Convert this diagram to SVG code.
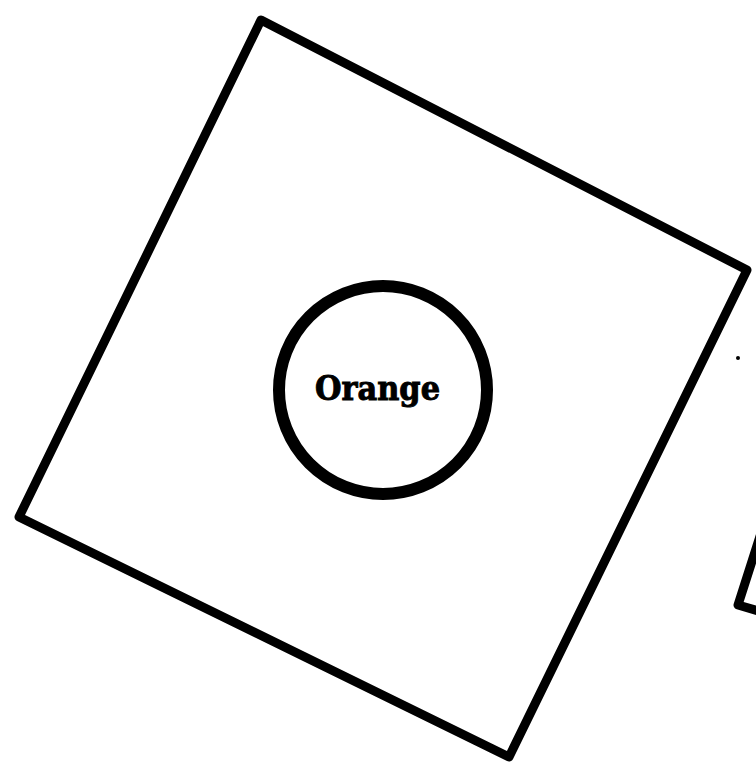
<svg xmlns="http://www.w3.org/2000/svg" width="756" height="768" viewBox="0 0 756 768">
<style>
.edge{fill:none;stroke:#000;stroke-width:9;stroke-linejoin:round;stroke-linecap:round}
.lbl{font-family:"DejaVu Serif","Liberation Serif",serif;font-weight:bold;font-size:34px;fill:#000;stroke:#000;stroke-width:1}
</style>
<rect width="756" height="768" fill="#fff"/>
<g id="square">
<polygon class="edge" points="261,20 747,270 509,757 19,517"/>
</g>
<g id="orange">
<circle cx="383" cy="390" r="104" fill="none" stroke="#000" stroke-width="12"/>
<path d="M283,360 A104,104 0 0 0 320,470" fill="none" stroke="#000" stroke-width="7"/>
<text class="lbl" x="315" y="400" textLength="125" lengthAdjust="spacingAndGlyphs">Orange</text>
</g>
<g id="partial">
<polyline class="edge" points="762,530 738,605 762,612"/>
<circle cx="738" cy="358" r="2" fill="#000"/>
</g>
<g id="connectors"></g>
</svg>
